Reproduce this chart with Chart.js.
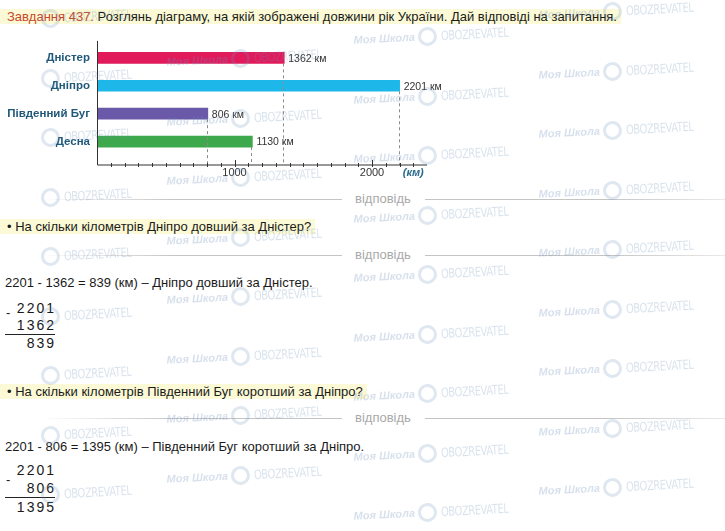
<!DOCTYPE html>
<html lang="uk">
<head>
<meta charset="utf-8">
<title>Завдання 437</title>
<script src="https://cdn.jsdelivr.net/npm/chart.js@4/dist/chart.umd.min.js"></script>
<style>
  html, body { margin: 0; padding: 0; background: #fff; }
  body { width: 725px; height: 531px; position: relative; overflow: hidden;
         font-family: "Liberation Sans", Arial, sans-serif; font-size: 13px; color: #1a1a1a; }
  .line { position: absolute; left: 0; height: 19px; line-height: 19px; white-space: nowrap; }
  .hl { background: #fcfad6; padding: 0 4px 0 7px; }
  .task { color: #c8472c; }
  .plain { padding-left: 5px; }
  .sep { position: absolute; left: 0; width: 725px; height: 16px; }
  .sep .l { position: absolute; left: 40px; width: 302px; top: 8px; height: 1px;
            background: linear-gradient(to right, rgba(190,190,190,0), #c4c4c4 45%); }
  .sep .r { position: absolute; left: 425px; width: 300px; top: 8px; height: 1px;
            background: linear-gradient(to right, #c4c4c4 60%, rgba(200,200,200,0.4)); }
  .sep .t { position: absolute; left: 355px; top: 0; line-height: 16px; color: #a9a9a9; font-size: 13px; }
  .col { position: absolute; left: 0; width: 56px; text-align: right; letter-spacing: 2px;
         font-size: 14px; line-height: 16px; }
  .rule { position: absolute; left: 5px; width: 50px; height: 1px; background: #222; }
  .minus { position: absolute; left: 6px; font-size: 13px; line-height: 12px; }
  #chartBox { position: absolute; left: 0; top: 30px; }
  #wm { position: absolute; left: 0; top: 0; width: 725px; height: 531px; pointer-events: none; }
  .wm { position: absolute; height: 20px; transform: rotate(-3deg); white-space: nowrap; }
  .wm .a { position: absolute; right: 12px; top: 3px; font: italic bold 11px "Liberation Sans", Arial;
           color: rgba(110,145,185,0.28); }
  .wm .c { position: absolute; left: -9px; top: 0; width: 13px; height: 13px; border-radius: 50%;
           border: 3px solid rgba(110,145,185,0.22); }
  .wm .b { position: absolute; left: 14px; top: 2px; font: 13px "DejaVu Sans Condensed", "Liberation Sans Narrow", Arial;
           letter-spacing: -0.5px; color: rgba(110,145,185,0.26); transform: scaleX(0.85); transform-origin: left; }
</style>
</head>
<body>

<div class="line" style="top:7px"><span class="hl"><span class="task">Завдання 437.</span> Розглянь діаграму, на якій зображені довжини рік України. Дай відповіді на запитання.</span></div>

<div id="chartBox"><canvas id="riverChart" width="460" height="160"></canvas></div>

<div class="sep" style="top:191px"><div class="l"></div><div class="t">відповідь</div><div class="r"></div></div>
<div class="line" style="top:217px"><span class="hl">• На скільки кілометрів Дніпро довший за Дністер?</span></div>
<div class="sep" style="top:247px"><div class="l"></div><div class="t">відповідь</div><div class="r"></div></div>
<div class="line plain" style="top:273px">2201 - 1362 = 839 (км) – Дніпро довший за Дністер.</div>

<div class="col" style="top:300px">2201</div>
<div class="minus" style="top:307px">-</div>
<div class="col" style="top:317px">1362</div>
<div class="rule" style="top:334px"></div>
<div class="col" style="top:335px">839</div>

<div class="line" style="top:382px"><span class="hl">• На скільки кілометрів Південний Буг коротший за Дніпро?</span></div>
<div class="sep" style="top:410px"><div class="l"></div><div class="t">відповідь</div><div class="r"></div></div>
<div class="line plain" style="top:437px">2201 - 806 = 1395 (км) – Південний Буг коротший за Дніпро.</div>

<div class="col" style="top:462px">2201</div>
<div class="minus" style="top:474px">-</div>
<div class="col" style="top:480px">806</div>
<div class="rule" style="top:497px"></div>
<div class="col" style="top:499px">1395</div>

<div id="wm"></div>

<script>
const rivers = ["Дністер", "Дніпро", "Південний Буг", "Десна"];
const lengths = [1362, 2201, 806, 1130];
const barColors = ["#e11a5c", "#1db7ea", "#6a59a9", "#3ea84c"];
const axisMax = 2400;
const axisStep = 100;
const labeledTicks = [1000, 2000, 2300];
const labeledTickText = ["1000", "2000", "(км)"];
const unit = "км";

Chart.defaults.font.family = '"Liberation Sans", Arial, sans-serif';

// axis lines, tick marks, dashed guides and value labels
const riverAxes = {
  id: "riverAxes",
  afterDatasetsDraw(chart) {
    const ctx = chart.ctx;
    const xs = chart.scales.x;
    const area = chart.chartArea;
    const x0 = xs.getPixelForValue(0);
    const axisY = area.bottom + 9.5;

    ctx.save();
    // dashed guides
    ctx.strokeStyle = "#8a8a8a";
    ctx.lineWidth = 1;
    ctx.setLineDash([3, 3]);
    chart.getDatasetMeta(0).data.forEach((bar, i) => {
      const x = Math.round(xs.getPixelForValue(lengths[i])) - 0.5;
      ctx.beginPath();
      ctx.moveTo(x, bar.y + bar.height / 2);
      ctx.lineTo(x, axisY);
      ctx.stroke();
    });
    ctx.setLineDash([]);

    // axes
    ctx.strokeStyle = "#333";
    ctx.beginPath();
    ctx.moveTo(x0 + 0.5, area.top - 3);
    ctx.lineTo(x0 + 0.5, axisY);
    ctx.lineTo(xs.getPixelForValue(axisMax), axisY);
    ctx.stroke();

    for (let v = axisStep; v < axisMax; v += axisStep) {
      const x = Math.round(xs.getPixelForValue(v)) + 0.5;
      const major = v % 1000 === 0;
      ctx.beginPath();
      ctx.moveTo(x, axisY - (major ? 5 : 2));
      ctx.lineTo(x, axisY + 2);
      ctx.stroke();
    }

    // value labels
    ctx.fillStyle = "#333";
    ctx.font = '10.5px "Liberation Sans", Arial, sans-serif';
    ctx.textBaseline = "middle";
    ctx.textAlign = "left";
    chart.getDatasetMeta(0).data.forEach((bar, i) => {
      ctx.fillText(lengths[i] + " " + unit, bar.x + 4, bar.y + 1);
    });
    ctx.restore();
  }
};

new Chart(document.getElementById("riverChart"), {
  type: "bar",
  data: {
    labels: rivers,
    datasets: [{
      data: lengths,
      backgroundColor: barColors,
      borderWidth: 0,
      barThickness: 11
    }]
  },
  options: {
    indexAxis: "y",
    responsive: false,
    animation: false,
    layout: { padding: { top: 9.5, right: 33, bottom: 0, left: 0 } },
    plugins: { legend: { display: false }, tooltip: { enabled: false } },
    scales: {
      x: {
        min: 0,
        max: axisMax,
        grid: { display: false, drawTicks: false },
        border: { display: false },
        afterFit: (s) => { s.height = 34.5; },
        ticks: {
          stepSize: axisStep,
          autoSkip: false,
          maxRotation: 0,
          padding: 11,
          callback: (v) => {
            const i = labeledTicks.indexOf(v);
            return i >= 0 ? labeledTickText[i] : "";
          },
          font: (c) => c.tick && c.tick.value === 2300
            ? { size: 11, style: "italic", weight: "bold" }
            : { size: 11 },
          color: (c) => c.tick && c.tick.value === 2300 ? "#2b6c8c" : "#333"
        }
      },
      y: {
        grid: { display: false, drawTicks: false },
        border: { display: false },
        afterFit: (s) => { s.width = 97; },
        ticks: {
          padding: 7,
          color: "#21597a",
          font: { size: 11.5, weight: "bold" }
        }
      }
    }
  },
  plugins: [riverAxes]
});

// watermark layer
const wm = document.getElementById("wm");
[[50, 18], [240, 58], [427, 36], [612, 11]].forEach(([cx, y0], col) => {
  for (let y = y0; y < 515; y += 59.5) {
    const d = document.createElement("div");
    d.className = "wm";
    d.style.left = cx + "px";
    d.style.top = (y - 9) + "px";
    d.innerHTML = (col ? '<span class="a">Моя Школа</span>' : "") +
      '<span class="c"></span><span class="b">OBOZREVATEL</span>';
    wm.appendChild(d);
  }
});
</script>
</body>
</html>
